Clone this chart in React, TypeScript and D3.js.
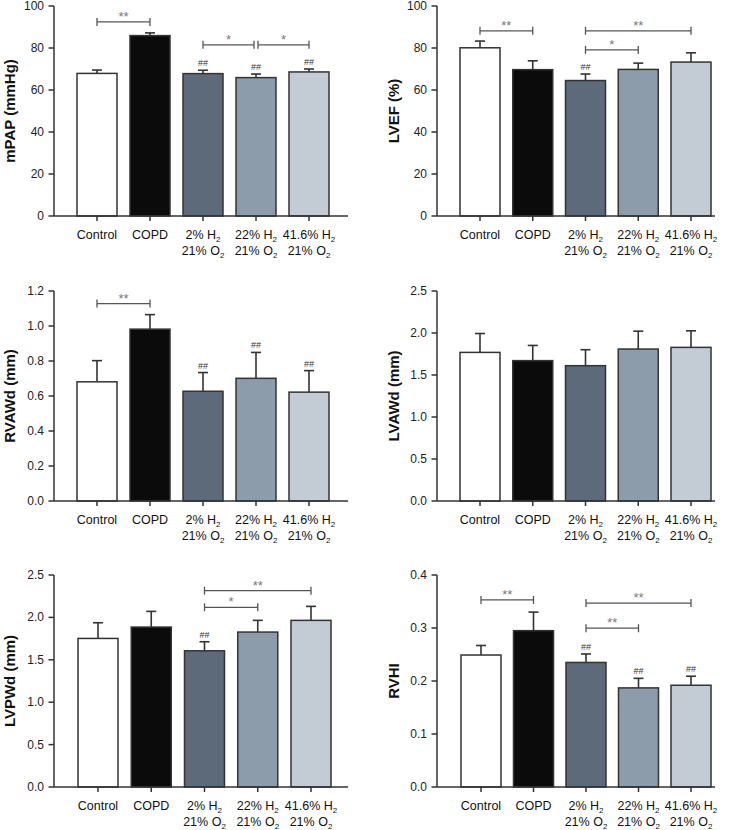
import React from "react";
import * as d3 from "d3";

const groups = ["Control", "COPD", "2%", "22%", "41.6%"];
const colors = ["#ffffff", "#0b0b0c", "#5c6a7a", "#8d9cab", "#c3ccd4"];

const mpapMean = [67.9, 85.9, 67.8, 65.9, 68.6];
const mpapErr = [69.5, 87.2, 69.4, 67.6, 70.0];
const lvefMean = [80.1, 69.7, 64.5, 69.8, 73.3];
const lvefErr = [83.3, 73.9, 67.6, 72.8, 77.7];
const rvawdMean = [0.681, 0.982, 0.627, 0.701, 0.622];
const rvawdErr = [0.802, 1.065, 0.734, 0.849, 0.745];
const lvawdMean = [1.769, 1.671, 1.611, 1.809, 1.829];
const lvawdErr = [1.994, 1.852, 1.801, 2.022, 2.026];
const lvpwdMean = [1.752, 1.886, 1.606, 1.827, 1.965];
const lvpwdErr = [1.937, 2.071, 1.713, 1.965, 2.13];
const rvhiMean = [0.249, 0.295, 0.235, 0.187, 0.192];
const rvhiErr = [0.267, 0.33, 0.251, 0.205, 0.209];

const ticksPct = [0, 20, 40, 60, 80, 100];
const ticksRvawd = [0, 0.2, 0.4, 0.6, 0.8, 1.0, 1.2];
const ticks25 = [0, 0.5, 1.0, 1.5, 2.0, 2.5];
const ticksRvhi = [0, 0.1, 0.2, 0.3, 0.4];

type Bracket = { a: number; b: number; y: number; label: string };

type Panel = {
  label: string;
  mean: number[];
  err: number[];
  ticks: number[];
  fmt: (v: number) => string;
  hashes: number[];
  brackets: Bracket[];
  left: number; right: number; top: number; bottom: number; c0: number; c4: number; labelX: number;
};

const f0 = (v: number) => d3.format("d")(v);
const f1 = (v: number) => d3.format(".1f")(v);

const panels: Panel[] = [
  { label: "mPAP (mmHg)", mean: mpapMean, err: mpapErr, ticks: ticksPct, fmt: f0, hashes: [2, 3, 4],
    brackets: [{ a: 0, b: 1, y: 92.4, label: "**" }, { a: 2, b: 3, y: 81.5, label: "*" }, { a: 3, b: 4, y: 81.5, label: "*" }],
    left: 54, right: 348, top: 6, bottom: 216, c0: 97, c4: 309, labelX: 10 },
  { label: "LVEF (%)", mean: lvefMean, err: lvefErr, ticks: ticksPct, fmt: f0, hashes: [2],
    brackets: [{ a: 0, b: 1, y: 88.2, label: "**" }, { a: 2, b: 4, y: 88.2, label: "**" }, { a: 2, b: 3, y: 79.1, label: "*" }],
    left: 437, right: 715, top: 6, bottom: 216, c0: 480, c4: 691, labelX: 394 },
  { label: "RVAWd (mm)", mean: rvawdMean, err: rvawdErr, ticks: ticksRvawd, fmt: f1, hashes: [2, 3, 4],
    brackets: [{ a: 0, b: 1, y: 1.128, label: "**" }],
    left: 54, right: 348, top: 291, bottom: 501, c0: 97, c4: 309, labelX: 10 },
  { label: "LVAWd (mm)", mean: lvawdMean, err: lvawdErr, ticks: ticks25, fmt: f1, hashes: [],
    brackets: [],
    left: 437, right: 715, top: 291, bottom: 501, c0: 480, c4: 691, labelX: 394 },
  { label: "LVPWd (mm)", mean: lvpwdMean, err: lvpwdErr, ticks: ticks25, fmt: f1, hashes: [2],
    brackets: [{ a: 2, b: 4, y: 2.315, label: "**" }, { a: 2, b: 3, y: 2.119, label: "*" }],
    left: 54, right: 348, top: 575, bottom: 787, c0: 98, c4: 311, labelX: 10 },
  { label: "RVHI", mean: rvhiMean, err: rvhiErr, ticks: ticksRvhi, fmt: f1, hashes: [2, 3, 4],
    brackets: [{ a: 0, b: 1, y: 0.353, label: "**" }, { a: 2, b: 4, y: 0.347, label: "**" }, { a: 2, b: 3, y: 0.2996, label: "**" }],
    left: 437, right: 715, top: 575, bottom: 787, c0: 481, c4: 691, labelX: 394 },
];

const FONT = "Liberation Sans, Arial, Helvetica, sans-serif";
const AX = "#333";
const BR = "#555";

function XLabel({ i, x, y }: { i: number; x: number; y: number }) {
  if (i === 0) return <text x={x} y={y} textAnchor="middle" fontSize={12.5} fill="#111">Control</text>;
  if (i === 1) return <text x={x} y={y} textAnchor="middle" fontSize={12.5} fill="#111">COPD</text>;
  return (
    <text x={x} y={y} textAnchor="middle" fontSize={12.5} fill="#111">
      <tspan x={x}>{groups[i]} H<tspan fontSize={8} dy={3}>2</tspan></tspan>
      <tspan x={x} dy={13}>21% O<tspan fontSize={8} dy={3}>2</tspan></tspan>
    </text>
  );
}

function PanelView({ p }: { p: Panel }) {
  const y = d3.scaleLinear().domain([0, p.ticks[p.ticks.length - 1]]).range([p.bottom, p.top]);
  const x = d3.scalePoint<string>().domain(groups).range([p.c0, p.c4]);
  const bw = 40;
  const midY = (p.top + p.bottom) / 2;
  return (
    <g fontFamily={FONT}>
      {p.mean.map((m, i) => {
        const cx = x(groups[i])!;
        return (
          <g key={i}>
            <line x1={cx} x2={cx} y1={y(m)} y2={y(p.err[i])} stroke={AX} strokeWidth={1.6} />
            <line x1={cx - 5} x2={cx + 5} y1={y(p.err[i])} y2={y(p.err[i])} stroke={AX} strokeWidth={1.6} />
            <rect x={cx - bw / 2} y={y(m)} width={bw} height={p.bottom - y(m)} fill={colors[i]} stroke={AX} strokeWidth={1.5} />
          </g>
        );
      })}
      <line x1={p.left} x2={p.left} y1={p.top} y2={p.bottom} stroke={AX} strokeWidth={1.5} />
      <line x1={p.left} x2={p.right} y1={p.bottom} y2={p.bottom} stroke={AX} strokeWidth={1.5} />
      {p.ticks.map((t) => (
        <g key={t}>
          <line x1={p.left - 5.5} x2={p.left} y1={y(t)} y2={y(t)} stroke={AX} strokeWidth={1.5} />
          <text x={p.left - 10} y={y(t) + 4} textAnchor="end" fontSize={12} fill="#222">{p.fmt(t)}</text>
        </g>
      ))}
      {groups.map((g, i) => {
        const cx = x(g)!;
        return (
          <g key={g}>
            <line x1={cx} x2={cx} y1={p.bottom} y2={p.bottom + 5} stroke={AX} strokeWidth={1.5} />
            <XLabel i={i} x={cx} y={p.bottom + 23} />
          </g>
        );
      })}
      {p.hashes.map((i) => (
        <text key={i} x={x(groups[i])!} y={y(p.err[i]) - 4} textAnchor="middle" fontSize={9} fill="#333">##</text>
      ))}
      {p.brackets.map((b, k) => {
        const xa = x(groups[b.a])! + (k > 0 && b.a === p.brackets[k - 1].b ? 2 : 0);
        const xb = x(groups[b.b])! - (k + 1 < p.brackets.length && p.brackets[k + 1].a === b.b && p.brackets[k + 1].y === b.y ? 2 : 0);
        const yy = y(b.y);
        return (
          <g key={k}>
            <line x1={xa} x2={xb} y1={yy} y2={yy} stroke={BR} strokeWidth={1.3} />
            <line x1={xa} x2={xa} y1={yy - 4} y2={yy + 4} stroke={BR} strokeWidth={1.3} />
            <line x1={xb} x2={xb} y1={yy - 4} y2={yy + 4} stroke={BR} strokeWidth={1.3} />
            <text x={(xa + xb) / 2} y={yy - 1} textAnchor="middle" fontSize={13} fill="#777">{b.label}</text>
          </g>
        );
      })}
      <text transform={`translate(${p.labelX + 5},${midY}) rotate(-90)`} textAnchor="middle" fontSize={15} fontWeight="bold" fill="#111">{p.label}</text>
    </g>
  );
}

export default function App() {
  return (
    <svg width={732} height={830} style={{ position: "absolute", left: 0, top: 0, background: "#fff" }}>
      {panels.map((p, i) => <PanelView key={i} p={p} />)}
    </svg>
  );
}
